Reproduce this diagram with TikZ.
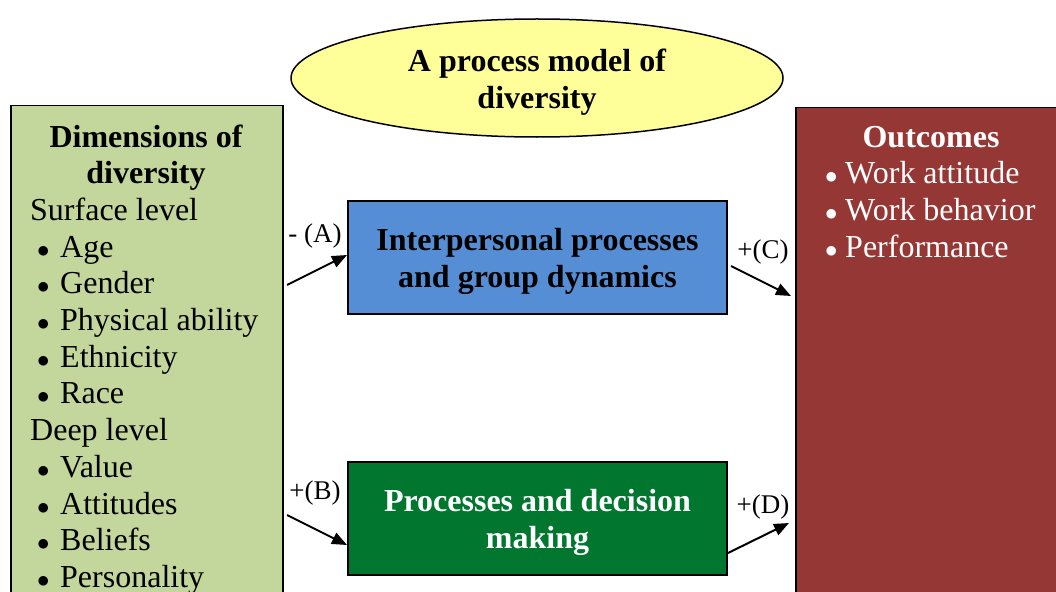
\documentclass[tikz,border=0pt]{standalone}
\usepackage{fontspec}
\setmainfont{Liberation Serif}
\usetikzlibrary{arrows.meta,shapes.geometric}
\definecolor{dimgreen}{HTML}{C3D69B}
\definecolor{procblue}{HTML}{558ED5}
\definecolor{procgreen}{HTML}{00762F}
\definecolor{outred}{HTML}{953735}
\definecolor{titleyellow}{HTML}{FFFF99}
\tikzset{
  bigbox/.style={draw=black, line width=1.5pt, anchor=north west, inner sep=0pt},
  procbox/.style={draw=black, line width=1.5pt, minimum width=379pt, minimum height=113pt, inner sep=0pt},
  boxtext/.style={inner sep=0pt, align=center, font=\fontsize{32}{36.7}\selectfont\bfseries},
  line/.style={anchor=base west, inner sep=0pt, font=\fontsize{32}{36.7}\selectfont},
  head/.style={anchor=base, inner sep=0pt, font=\fontsize{32}{36.7}\selectfont\bfseries},
  lbl/.style={inner sep=0pt, font=\fontsize{27}{30}\selectfont},
  arr/.style={line width=2pt, -{Triangle[length=15pt,width=12pt]}}
}
\newcommand{\bul}{\makebox[23pt][l]{$\bullet$}}
\newcommand{\obul}{\makebox[20pt][l]{$\bullet$}}
\begin{document}
\begin{tikzpicture}[x=1pt,y=-1pt]
\useasboundingbox (0,0) rectangle (1056,591);
\clip (0,0) rectangle (1056,591);
% left box
\node[bigbox, fill=dimgreen, minimum width=272pt, minimum height=520pt] (dims) at (10,105) {};
\node[head] (dt1) at (146,147) {Dimensions of};
\node[head] (dt2) at (146,183.7) {diversity};
\node[line] (sl) at (30,220.4) {Surface level};
\node[line] (l1) at (37,257.1) {\bul Age};
\node[line] (l2) at (37,293.8) {\bul Gender};
\node[line] (l3) at (37,330.5) {\bul Physical ability};
\node[line] (l4) at (37,367.2) {\bul Ethnicity};
\node[line] (l5) at (37,403.9) {\bul Race};
\node[line] (dl) at (30,440.6) {Deep level};
\node[line] (l6) at (37,477.3) {\bul Value};
\node[line] (l7) at (37,514) {\bul Attitudes};
\node[line] (l8) at (37,550.7) {\bul Beliefs};
\node[line] (l9) at (37,587.4) {\bul Personality};
% right box
\node[bigbox, fill=outred, minimum width=280pt, minimum height=520pt] (out) at (795,107) {};
\node[head, text=white] (ot) at (931,147) {Outcomes};
\node[line, text=white] (o1) at (825,183.7) {\obul Work attitude};
\node[line, text=white] (o2) at (825,220.4) {\obul Work behavior};
\node[line, text=white] (o3) at (825,257.1) {\obul Performance};
% title ellipse
\node[ellipse, draw=black, line width=1.5pt, fill=titleyellow, minimum width=492pt, minimum height=118pt,
  inner sep=0pt] (title) at (537,78) {};
\node[boxtext] (tt) at (537,82.5) {A process model of\\diversity};
% process boxes
\node[procbox, fill=procblue] (ip) at (537.5,257.5) {};
\node[boxtext] (ipt) at (537.5,261.5) {Interpersonal processes\\and group dynamics};
\node[procbox, fill=procgreen] (pd) at (537.5,518.5) {};
\node[boxtext, text=white] (pdt) at (537.5,522.5) {Processes and decision\\making};
% arrows
\coordinate (a0) at (287,285);
\coordinate (a1) at (347,255);
\coordinate (b0) at (287,515);
\coordinate (b1) at (347,545);
\coordinate (c0) at (731,266);
\coordinate (c1) at (791,296);
\coordinate (d0) at (728,553);
\coordinate (d1) at (789,523);
\draw[arr] (a0) -- (a1);
\draw[arr] (b0) -- (b1);
\draw[arr] (c0) -- (c1);
\draw[arr] (d0) -- (d1);
\node[lbl] (la) at (315,236) {- (A)};
\node[lbl] (lb) at (315,493) {+(B)};
\node[lbl] (lc) at (763,252) {+(C)};
\node[lbl] (ld) at (763,507) {+(D)};
\end{tikzpicture}
\end{document}
